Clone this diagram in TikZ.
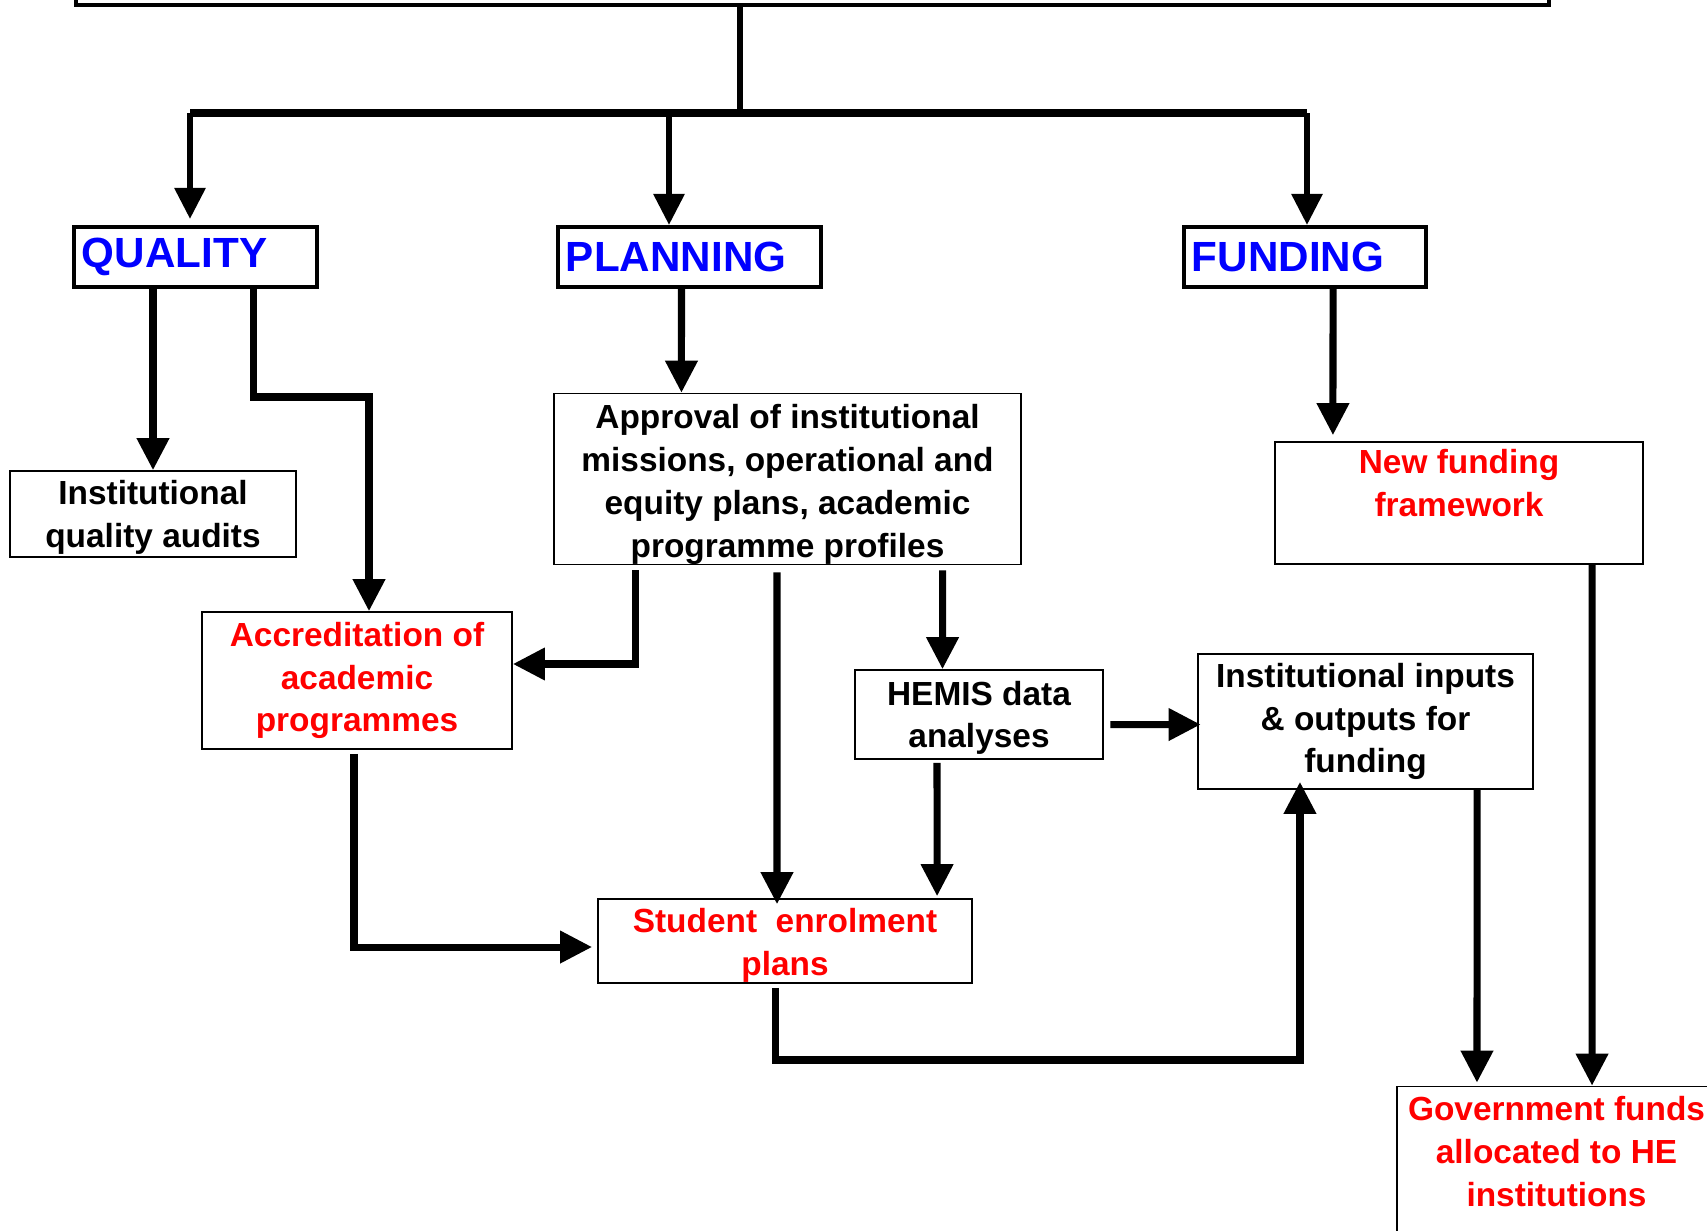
\documentclass[tikz,border=0pt]{standalone}
\usepackage{fontspec}
\setmainfont{Liberation Sans}
\usetikzlibrary{arrows.meta}
\definecolor{hblue}{RGB}{0,0,255}
\definecolor{hred}{RGB}{255,0,0}
\newcommand{\lowr}[1]{\rule{0pt}{#1}}

\begin{document}
\begin{tikzpicture}[x=0.01cm,y=-0.01cm,
	head/.style={draw,line width=1.15pt,minimum height=0.6cm,inner xsep=0.08cm,inner ysep=0pt,align=left,text=hblue,font=\fontsize{12}{14}\selectfont\bfseries},
	box/.style={draw,line width=0.45pt,inner sep=0pt,align=center,font=\fontsize{9.5}{12.2}\selectfont\bfseries},
	redbox/.style={box,text=hred},
	link/.style={line width=2pt},
	arr/.style={link,-{Triangle[length=0.32cm,width=0.31cm]}},
	toparr/.style={line width=1.7pt,-{Triangle[length=0.31cm,width=0.30cm]}}]
			\path[use as bounding box,clip] (0,0) rectangle (1707,1230);
			\node[draw,line width=1.2pt,minimum width=14.72cm,minimum height=1cm,anchor=south west] (mainbox) at (74,7) {};
			\node[head,text width=2.27cm] (qual) at (195.5,257) {QUALITY};
			\node[head,text width=2.47cm] (plan) at (689.5,257) {PLANNING};
			\node[head,text width=2.26cm] (fund) at (1305,257) {FUNDING};
			\node[box,minimum width=2.86cm,minimum height=0.86cm] (audit) at (153,514) {\lowr{8.8pt}Institutional\\quality audits};
			\node[redbox,minimum width=3.10cm,minimum height=1.37cm] (accr) at (357,680.5) {Accreditation of\\academic\\programmes};
			\node[box,minimum width=4.67cm,minimum height=1.68cm] (appr) at (787.5,479) {\lowr{10pt}Approval of institutional\\missions, operational and\\equity plans, academic\\programme profiles};
			\node[box,minimum width=2.48cm,minimum height=0.89cm] (hemis) at (979,714.5) {\lowr{8.8pt}HEMIS data\\analyses};
			\node[redbox,minimum width=3.74cm,minimum height=0.84cm] (stud) at (785,941) {\lowr{9.4pt}Student\ \ enrolment\\plans};
			\node[box,minimum width=3.35cm,minimum height=1.35cm] (inout) at (1365.5,721.5) {Institutional inputs\\\& outputs for\\funding};
			\node[redbox,minimum width=3.68cm,minimum height=1.22cm] (newf) at (1459,503) {\lowr{7.6pt}New funding\\framework\\\mbox{}};
			\node[redbox,minimum width=3.19cm,minimum height=1.73cm] (govt) at (1556.5,1173) {Government funds\\allocated to HE\\institutions\\\mbox{}};
			\coordinate (hub) at (740,113);
			\coordinate (busq) at (190,113);
			\coordinate (busp) at (669,113);
			\coordinate (busf) at (1307,113);
			\coordinate (qbend) at (369,397);
			\draw[line width=1.8pt] (mainbox.south -| hub) -- (hub);
			\draw[line width=2.1pt] (busq) -- (busf);
			\draw[toparr,shorten >=0.06cm] (busq) -- (busq |- qual.north);
			\draw[toparr] (busp) -- (busp |- plan.north);
			\draw[toparr] (busf) -- (busf |- fund.north);
			\draw[arr] (audit.north |- qual.south) -- (audit.north);
			\draw[arr] ([xshift=0.575cm]qual.south) |- (qbend) -- (qbend |- accr.north);
			\draw[arr] ([xshift=-0.08cm]plan.south) -- ([xshift=-1.06cm]appr.north);
			\draw[arr] ([xshift=-1.515cm,yshift=-0.05cm]appr.south) |- ([yshift=0.165cm]accr.east);
			\draw[arr] ([xshift=-0.105cm,yshift=-0.07cm]appr.south) -- ([xshift=-0.08cm,yshift=-0.06cm]stud.north);
			\draw[arr] ([xshift=1.55cm,yshift=-0.05cm]appr.south) -- ([xshift=-0.365cm]hemis.north);
			\draw[arr] ([xshift=-0.42cm,yshift=-0.03cm]hemis.south) -- ([xshift=1.52cm,yshift=0.02cm]stud.north);
			\draw[arr] ([xshift=0.065cm,yshift=-0.1cm]hemis.east) -- ([xshift=0.035cm,yshift=-0.03cm]inout.west);
			\draw[arr] ([xshift=-0.03cm,yshift=-0.04cm]accr.south) |- ([xshift=-0.05cm,yshift=-0.06cm]stud.west);
			\draw[arr] ([xshift=-0.095cm,yshift=-0.04cm]stud.south) |- ([xshift=-0.655cm,yshift=-2.7cm]inout.south) -- ([xshift=-0.655cm,yshift=0.08cm]inout.south);
			\draw[arr] ([xshift=0.28cm]fund.south) -- ([xshift=-1.26cm,yshift=0.06cm]newf.north);
			\draw[arr] ([xshift=1.33cm]newf.south) -- ([xshift=0.355cm]govt.north);
			\draw[arr] ([xshift=1.115cm]inout.south) -- ([xshift=-0.795cm,yshift=0.03cm]govt.north);
\end{tikzpicture}
\end{document}
